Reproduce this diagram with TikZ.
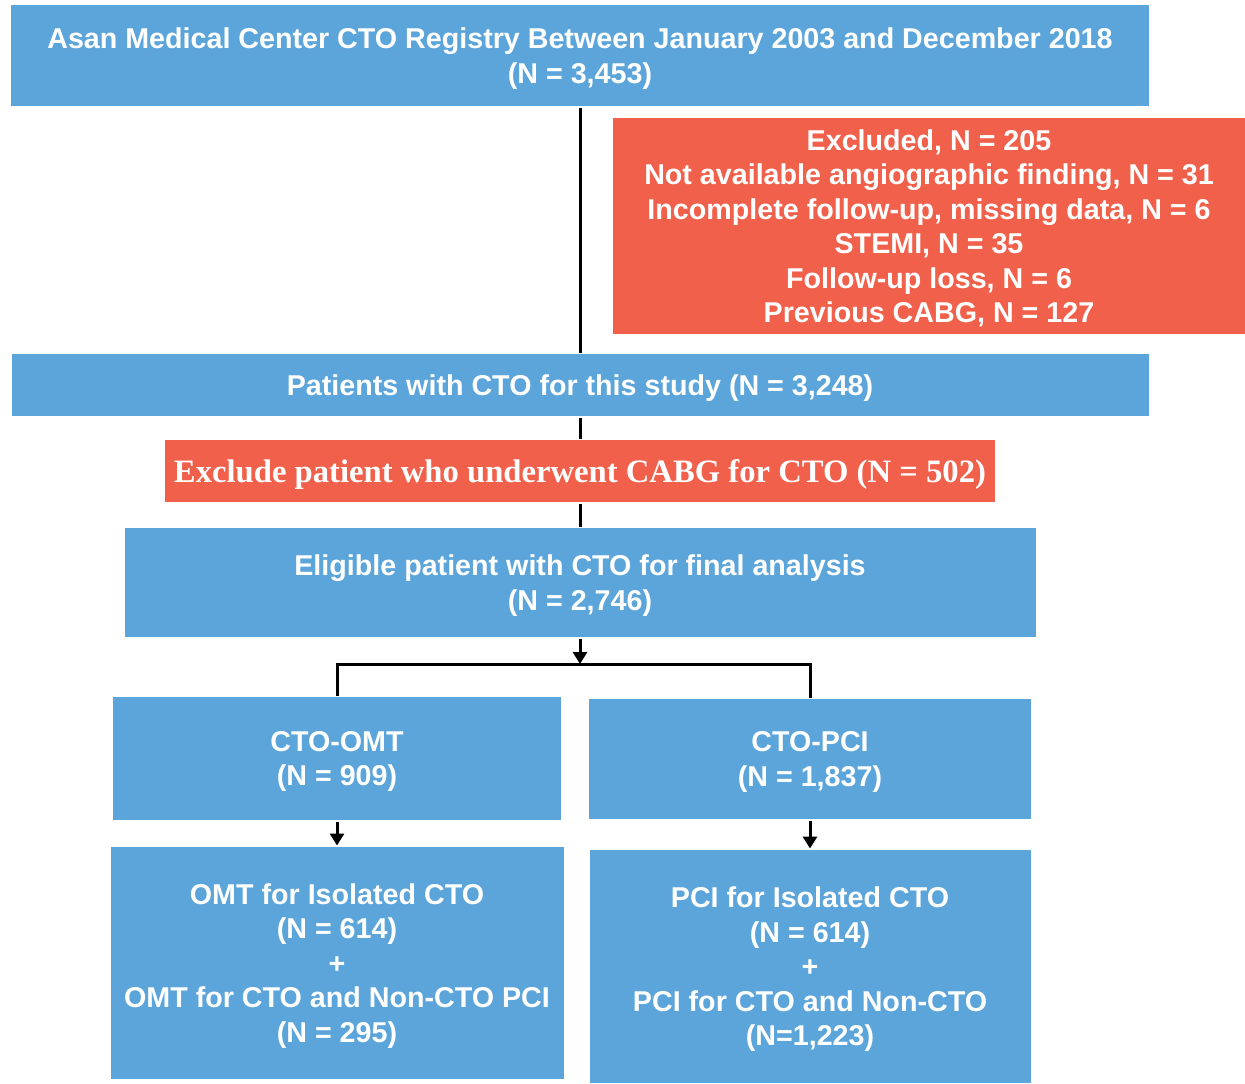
\documentclass[tikz,border=0pt]{standalone}
\usepackage{fontspec}
\setmainfont{Liberation Sans}
\newfontfamily\timesbf{Liberation Serif}
\usetikzlibrary{arrows.meta}

\definecolor{boxblue}{RGB}{92,165,218}
\definecolor{boxred}{RGB}{240,96,75}

\tikzset{every picture/.style={line width=2.25pt}}
\tikzset{
  bluebox/.style={fill=boxblue, text=white, inner sep=0pt, align=center, text depth=0pt,
    font=\bfseries\fontsize{21.5}{25.9}\selectfont},
  redbox/.style={fill=boxred, text=white, inner sep=0pt, align=center, text depth=0pt,
    font=\bfseries\fontsize{21.5}{25.9}\selectfont},
  link/.style={draw=black, line width=2.25pt},
  arr/.style={link, -{Triangle[width=10.5pt,length=9pt]}}
}

\begin{document}
\begin{tikzpicture}[x=0.75pt,y=0.75pt,yscale=-1,xscale=1]
\useasboundingbox (0,0) rectangle (1245,1083);

%Shape: Rectangle [registry]
\node (registry) at (580,55.5) [bluebox, minimum width=1138*0.75pt, minimum height=101*0.75pt]
  {Asan Medical Center CTO Registry Between January 2003 and December 2018\\(N = 3,453)};
%Shape: Rectangle [excluded]
\node (excluded) at (929,226) [redbox, minimum width=632*0.75pt, minimum height=216*0.75pt]
  {Excluded, N = 205\\Not available angiographic finding, N = 31\\Incomplete follow-up, missing data, N = 6\\STEMI, N = 35\\Follow-up loss, N = 6\\Previous CABG, N = 127};
%Shape: Rectangle [study]
\node (study) at (580,385) [bluebox, minimum width=1137*0.75pt, minimum height=62*0.75pt]
  {Patients with CTO for this study (N = 3,248)};
%Shape: Rectangle [cabg]
\node (cabg) at (580,471) [redbox, minimum width=830*0.75pt, minimum height=62*0.75pt,
  font=\timesbf\bfseries\fontsize{24.5}{29}\selectfont]
  {Exclude patient who underwent CABG for CTO (N = 502)};
%Shape: Rectangle [eligible]
\node (eligible) at (580,582.5) [bluebox, minimum width=911*0.75pt, minimum height=109*0.75pt]
  {Eligible patient with CTO for final analysis\\(N = 2,746)};
%Shape: Rectangle [omt]
\node (omt) at (337,758.5) [bluebox, minimum width=448*0.75pt, minimum height=123*0.75pt]
  {CTO-OMT\\(N = 909)};
%Shape: Rectangle [pci]
\node (pci) at (810,759) [bluebox, minimum width=442*0.75pt, minimum height=120*0.75pt]
  {CTO-PCI\\(N = 1,837)};
%Shape: Rectangle [omtiso]
\node (omtiso) at (337,963) [bluebox, minimum width=453*0.75pt, minimum height=232*0.75pt]
  {OMT for Isolated CTO\\(N = 614)\\+\\OMT for CTO and Non-CTO PCI\\(N = 295)};
%Shape: Rectangle [pciiso]
\node (pciiso) at (810,966.5) [bluebox, minimum width=441*0.75pt, minimum height=233*0.75pt]
  {PCI for Isolated CTO\\(N = 614)\\+\\PCI for CTO and Non-CTO\\(N=1,223)};

%Straight Lines
\draw [link] (registry.south) -- (study.north) ;
\draw [link] (study.south) -- (cabg.north) ;
\draw [link] (cabg.south) -- (eligible.north) ;
%Split
\coordinate (split) at (580,664) ;
\draw [arr] (eligible.south) -- (split) ;
\draw [link] (omt.north) |- (split) -| (pci.north) ;
%Arrows
\draw [arr] (omt.south) -- (omtiso.north) ;
\draw [arr] (pci.south) -- (pciiso.north) ;

\end{tikzpicture}
\end{document}
